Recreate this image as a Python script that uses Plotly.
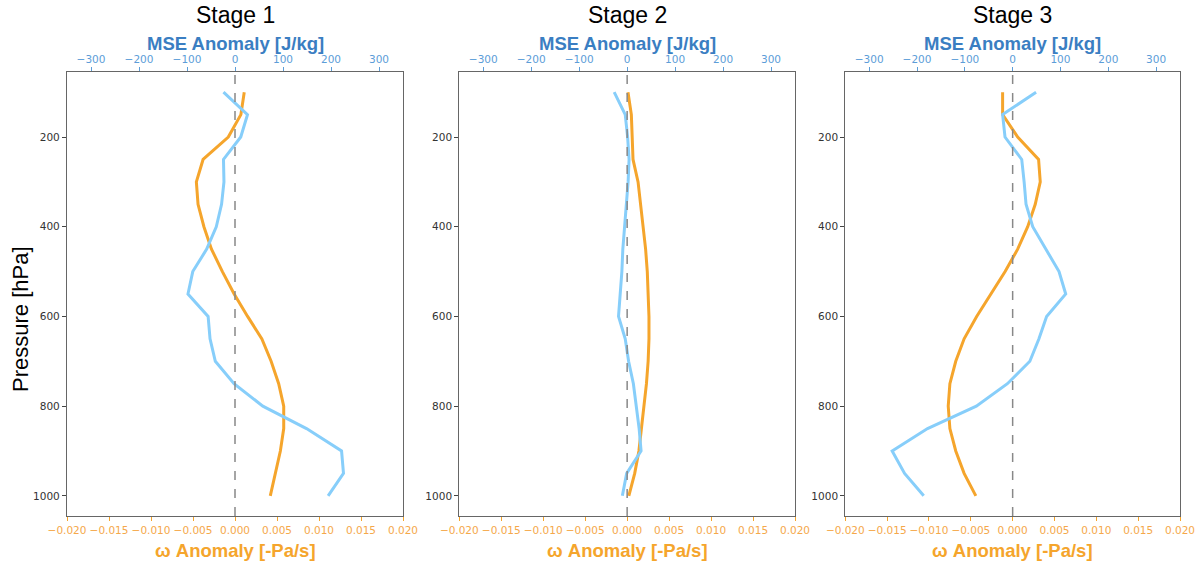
import plotly.graph_objects as go

# Pressure levels (hPa)
pressure = [100, 150, 200, 250, 300, 350, 400, 450, 500, 550,
            600, 650, 700, 750, 800, 850, 900, 950, 1000]

stages = ["Stage 1", "Stage 2", "Stage 3"]

# Vertical-velocity anomaly profiles [-Pa/s]
omega_stage1 = [0.0011, 0.0007, -0.0008, -0.0038, -0.0046, -0.0044, -0.0037, -0.0028, -0.0015, -0.0001,
                0.0015, 0.0032, 0.0043, 0.0052, 0.0058, 0.0058, 0.0054, 0.0048, 0.0042]
omega_stage2 = [0.0001, 0.0005, 0.0006, 0.0007, 0.0013, 0.0016, 0.0019, 0.0022, 0.0024, 0.0025,
                0.0026, 0.0026, 0.0025, 0.0023, 0.0020, 0.0017, 0.0014, 0.0009, 0.0002]
omega_stage3 = [-0.0012, -0.0012, 0.0006, 0.0031, 0.0033, 0.0027, 0.0018, 0.0006, -0.0009, -0.0026,
                -0.0043, -0.0058, -0.0068, -0.0075, -0.0077, -0.0075, -0.0068, -0.0058, -0.0044]

# Moist static energy anomaly profiles [J/kg]
mse_stage1 = [-24, 26, 12, -24, -23, -28, -39, -59, -88, -98,
              -56, -52, -41, -2, 58, 149, 222, 226, 194]
mse_stage2 = [-27, -4, 1, 4, 2, -2, -6, -9, -11, -15,
              -18, -4, 3, 13, 19, 25, 29, -1, -10]
mse_stage3 = [49, -21, -16, 19, 24, 28, 42, 69, 97, 111,
              71, 55, 36, -11, -76, -178, -252, -226, -186]

omega_profiles = [omega_stage1, omega_stage2, omega_stage3]
mse_profiles = [mse_stage1, mse_stage2, mse_stage3]

omega_ticks = [-0.020, -0.015, -0.010, -0.005, 0.000, 0.005, 0.010, 0.015, 0.020]
omega_ticktext = ["\u22120.020", "\u22120.015", "\u22120.010", "\u22120.005", "0.000",
                  "0.005", "0.010", "0.015", "0.020"]
mse_ticks = [-300, -200, -100, 0, 100, 200, 300]
mse_ticktext = ["\u2212300", "\u2212200", "\u2212100", "0", "100", "200", "300"]
p_ticks = [200, 400, 600, 800, 1000]

W, H = 1202, 562
panel_px = [(67, 403), (459.3, 795), (845.3, 1180)]
top_px, bottom_px = 72, 516

ORANGE = "#F5A52C"
BLUE = "#87CEFA"
ORANGE_TXT = "#F5A84A"
BLUE_TICK = "#5C9DD8"
BLUE_TITLE = "#3A7EC2"
SPINE = "#666666"
TICK_FONT = dict(family="DejaVu Sans", size=10.5)
TITLE_FAMILY = "Liberation Sans, Arial, sans-serif"


def py(pix):
    return 1 - pix / H


def px(pix):
    return pix / W


def sfx(n):
    return "" if n == 1 else str(n)


fig = go.Figure()
layout = {}
annotations = []
shapes = []

for i in range(3):
    n = i + 1
    xb = "x" + sfx(n)
    xt = "x" + sfx(n + 3)
    yy = "y" + sfx(n)
    dom = [px(panel_px[i][0]), px(panel_px[i][1])]

    fig.add_trace(go.Scatter(x=omega_profiles[i], y=pressure, xaxis=xb, yaxis=yy,
                             mode="lines", line=dict(color=ORANGE, width=3),
                             showlegend=False, hoverinfo="x+y"))
    fig.add_trace(go.Scatter(x=mse_profiles[i], y=pressure, xaxis=xt, yaxis=yy,
                             mode="lines", line=dict(color=BLUE, width=3),
                             showlegend=False, hoverinfo="x+y"))

    layout["xaxis" + sfx(n)] = dict(domain=dom, anchor=yy, range=[-0.02, 0.02],
                                    tickvals=omega_ticks, ticktext=omega_ticktext,
                                    ticks="outside", ticklen=4, tickcolor=ORANGE, tickwidth=1,
                                    tickfont=dict(color=ORANGE_TXT, **TICK_FONT),
                                    showline=True, linecolor=SPINE, linewidth=1.2,
                                    showgrid=False, zeroline=False, automargin=False)
    layout["xaxis" + sfx(n + 3)] = dict(overlaying=xb, anchor=yy, side="top",
                                        range=[-350, 350],
                                        tickvals=mse_ticks, ticktext=mse_ticktext,
                                        ticks="outside", ticklen=4, tickcolor=BLUE_TICK, tickwidth=1,
                                        tickfont=dict(color=BLUE_TICK, **TICK_FONT),
                                        showline=True, linecolor=SPINE, linewidth=1.2,
                                        showgrid=False, zeroline=False, automargin=False)
    layout["yaxis" + sfx(n)] = dict(domain=[py(bottom_px), py(top_px)], anchor=xb,
                                    range=[1045, 55], tickvals=p_ticks,
                                    ticks="outside", ticklen=4, tickcolor="#444", tickwidth=1,
                                    tickfont=dict(color="#333333", **TICK_FONT),
                                    showline=True, mirror=True, linecolor=SPINE, linewidth=1.2,
                                    showgrid=False, zeroline=False, automargin=False)

    # zero reference line
    shapes.append(dict(type="line", xref=xb, yref=yy + " domain",
                       x0=0, x1=0, y0=0, y1=1,
                       line=dict(color="#888888", width=1.5, dash="dash")))

    cx = px((panel_px[i][0] + panel_px[i][1]) / 2)
    annotations.append(dict(text=stages[i], x=cx, y=py(15), xref="paper", yref="paper",
                            showarrow=False, xanchor="center", yanchor="middle",
                            font=dict(family=TITLE_FAMILY, size=23, color="black")))
    annotations.append(dict(text="<b>MSE Anomaly [J/kg]</b>", x=cx, y=py(43),
                            xref="paper", yref="paper", showarrow=False,
                            xanchor="center", yanchor="middle",
                            font=dict(family=TITLE_FAMILY, size=18.5, color=BLUE_TITLE)))
    annotations.append(dict(text="<b>\u03c9 Anomaly [-Pa/s]</b>", x=cx, y=py(550),
                            xref="paper", yref="paper", showarrow=False,
                            xanchor="center", yanchor="middle",
                            font=dict(family=TITLE_FAMILY, size=18.5, color=ORANGE)))

annotations.append(dict(text="Pressure [hPa]", x=px(20), y=py(319),
                        xref="paper", yref="paper", showarrow=False, textangle=-90,
                        xanchor="center", yanchor="middle",
                        font=dict(family=TITLE_FAMILY, size=22, color="black")))

fig.update_layout(width=W, height=H, margin=dict(l=0, r=0, t=0, b=0, autoexpand=False),
                  paper_bgcolor="white", plot_bgcolor="white",
                  annotations=annotations, shapes=shapes, **layout)

fig.write_html("out.html")
